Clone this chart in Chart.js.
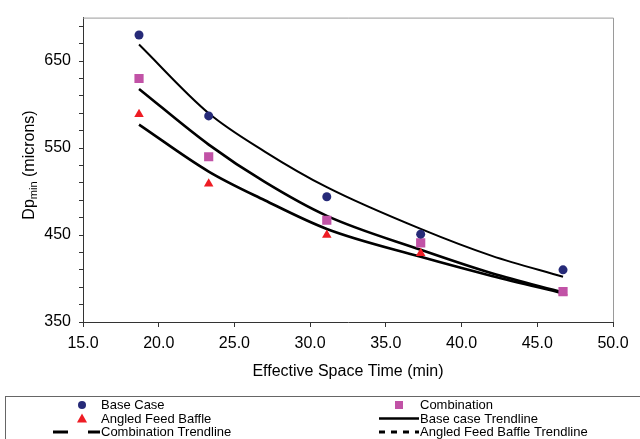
<!DOCTYPE html>
<html>
<head>
<meta charset="utf-8">
<script src="https://cdn.jsdelivr.net/npm/chart.js@4.4.1/dist/chart.umd.min.js"></script>
<style>
  html, body { margin: 0; padding: 0; background: #fff; }
  #wrap { width: 640px; height: 439px; position: relative; }
</style>
</head>
<body>
<div id="wrap"><canvas id="dpChart"></canvas></div>
<script>
// values
const spaceTime = [18.7, 23.3, 31.1, 37.3, 46.7];
const baseCase = [680, 587, 494, 451, 410];
const combination = [630, 540, 467, 441, 385];
const angledBaffle = [589, 509, 450, 429, 384];

// trendlines read at a few more x positions
const trendTime = [18.7, 23.3, 27.0, 31.1, 37.3, 42.0, 46.7];
const baseTrend = [669, 590, 546, 505, 457, 426, 402];
const combinationTrend = [618, 554, 511, 472, 433, 406, 384];
const angledTrend = [577, 523, 490, 457, 425, 403, 383];

const yTickValues = [350, 370, 390, 410, 430, 450, 470, 490, 510, 530, 550, 570, 590, 610, 630, 650, 670, 690];
const yLabelValues = [350, 450, 550, 650];

const FONT = '"Liberation Sans", Arial, sans-serif';

function toPoints(xs, ys) {
    return xs.map(function (x, i) { return { x: x, y: ys[i] }; });
}

// gray top/right border of the plot box
const plotFrame = {
    id: 'plotFrame',
    beforeDatasetsDraw: function (chart) {
        const a = chart.chartArea;
        const ctx = chart.ctx;
        ctx.save();
        ctx.strokeStyle = '#9a9a9a';
        ctx.lineWidth = 1;
        ctx.beginPath();
        ctx.moveTo(a.left, a.top + 0.5);
        ctx.lineTo(a.right + 0.5, a.top + 0.5);
        ctx.lineTo(a.right + 0.5, a.bottom);
        ctx.stroke();
        ctx.restore();
    }
};

// axis titles (y title has a subscript)
const axisTitles = {
    id: 'axisTitles',
    afterDraw: function (chart) {
        const a = chart.chartArea;
        const ctx = chart.ctx;
        ctx.save();
        ctx.fillStyle = '#000';
        ctx.textBaseline = 'middle';
        ctx.textAlign = 'center';
        ctx.font = '16px ' + FONT;
        ctx.fillText('Effective Space Time (min)', (a.left + a.right) / 2, 372);

        ctx.translate(28, 165);
        ctx.rotate(-Math.PI / 2);
        ctx.textAlign = 'left';
        ctx.textBaseline = 'alphabetic';
        const big = '16px ' + FONT, small = '11px ' + FONT;
        ctx.font = big;
        const w1 = ctx.measureText('Dp').width;
        const w3 = ctx.measureText(' (microns)').width;
        ctx.font = small;
        const w2 = ctx.measureText('min').width;
        let x = -(w1 + w2 + w3) / 2;
        ctx.font = big;
        ctx.fillText('Dp', x, 6);
        x += w1;
        ctx.font = small;
        ctx.fillText('min', x, 9);
        x += w2;
        ctx.font = big;
        ctx.fillText(' (microns)', x, 6);
        ctx.restore();
    }
};

function drawMarker(ctx, ds, x, y) {
    ctx.fillStyle = ds.backgroundColor;
    ctx.beginPath();
    if (ds.pointStyle === 'circle') {
        ctx.arc(x, y, 4, 0, Math.PI * 2);
    } else if (ds.pointStyle === 'rect') {
        ctx.rect(x - 4, y - 4, 8, 8);
    } else {
        ctx.moveTo(x, y - 5);
        ctx.lineTo(x + 5, y + 4);
        ctx.lineTo(x - 5, y + 4);
        ctx.closePath();
    }
    ctx.fill();
}

// boxed two-column legend under the chart
const boxLegend = {
    id: 'boxLegend',
    afterDraw: function (chart) {
        const ctx = chart.ctx;
        ctx.save();
        ctx.strokeStyle = '#666';
        ctx.lineWidth = 1;
        ctx.strokeRect(5.5, 396.5, 650, 60);
        const colMark = [82, 399];
        const colText = [101, 420];
        const colLine = [[53, 100], [379, 419]];
        const rows = [405, 418.5, 432];
        ctx.font = '13px ' + FONT;
        ctx.textBaseline = 'middle';
        ctx.textAlign = 'left';
        chart.data.datasets.forEach(function (ds, i) {
            const col = i % 2, row = Math.floor(i / 2);
            const y = rows[row];
            if (ds.showLine) {
                ctx.strokeStyle = '#000';
                ctx.lineWidth = ds.legendWidth;
                ctx.setLineDash(ds.legendDash);
                ctx.beginPath();
                ctx.moveTo(colLine[col][0], y);
                ctx.lineTo(colLine[col][1], y);
                ctx.stroke();
                ctx.setLineDash([]);
            } else {
                drawMarker(ctx, ds, colMark[col], y);
            }
            ctx.fillStyle = '#000';
            ctx.fillText(ds.label, colText[col], y + 0.5);
        });
        ctx.restore();
    }
};

const ctx = document.getElementById('dpChart').getContext('2d');
new Chart(ctx, {
    type: 'scatter',
    data: {
        datasets: [
            { label: 'Base Case', data: toPoints(spaceTime, baseCase), pointStyle: 'circle', pointRadius: 4.5,
              backgroundColor: '#262A78', borderColor: '#262A78', borderWidth: 0, order: 0 },
            { label: 'Combination', data: toPoints(spaceTime, combination), pointStyle: 'rect', pointRadius: 6.5,
              backgroundColor: '#C152A6', borderColor: '#C152A6', borderWidth: 0, order: 0 },
            { label: 'Angled Feed Baffle', data: toPoints(spaceTime, angledBaffle), pointStyle: 'triangle', pointRadius: 5.5,
              backgroundColor: '#EE1C24', borderColor: '#EE1C24', borderWidth: 0, order: 0 },
            { label: 'Base case Trendline', data: toPoints(trendTime, baseTrend), showLine: true, pointRadius: 0,
              borderColor: '#000', borderWidth: 2, cubicInterpolationMode: 'monotone', order: 1,
              legendWidth: 2.5, legendDash: [] },
            { label: 'Combination Trendline', data: toPoints(trendTime, combinationTrend), showLine: true, pointRadius: 0,
              borderColor: '#000', borderWidth: 2.6, cubicInterpolationMode: 'monotone', order: 1,
              legendWidth: 3, legendDash: [15, 20] },
            { label: 'Angled Feed Baffle Trendline', data: toPoints(trendTime, angledTrend), showLine: true, pointRadius: 0,
              borderColor: '#000', borderWidth: 2.6, cubicInterpolationMode: 'monotone', order: 1,
              legendWidth: 3, legendDash: [6, 6] }
        ]
    },
    options: {
        responsive: true,
        maintainAspectRatio: false,
        animation: false,
        layout: { padding: { top: 11, right: 27, bottom: 0, left: 0 } },
        scales: {
            x: {
                type: 'linear',
                min: 15,
                max: 50,
                afterFit: function (s) { s.height = 117; },
                ticks: {
                    stepSize: 5,
                    maxRotation: 0,
                    padding: 7,
                    color: '#000',
                    font: { family: FONT, size: 16 },
                    callback: function (v) { return v.toFixed(1); }
                },
                grid: { drawOnChartArea: false, drawTicks: true, tickLength: 5, color: '#333' },
                border: { color: '#333', width: 1 }
            },
            y: {
                type: 'linear',
                min: 350,
                max: 700,
                afterFit: function (s) { s.width = 83; },
                afterBuildTicks: function (s) {
                    s.ticks = yTickValues.map(function (v) { return { value: v }; });
                },
                ticks: {
                    autoSkip: false,
                    padding: 8,
                    color: '#000',
                    font: { family: FONT, size: 16 },
                    callback: function (v) { return yLabelValues.includes(v) ? String(v) : ''; }
                },
                grid: { drawOnChartArea: false, drawTicks: true, tickLength: 4, color: '#333' },
                border: { color: '#333', width: 1 }
            }
        },
        plugins: {
            legend: { display: false },
            tooltip: { enabled: false }
        }
    },
    plugins: [plotFrame, axisTitles, boxLegend]
});
</script>
</body>
</html>
